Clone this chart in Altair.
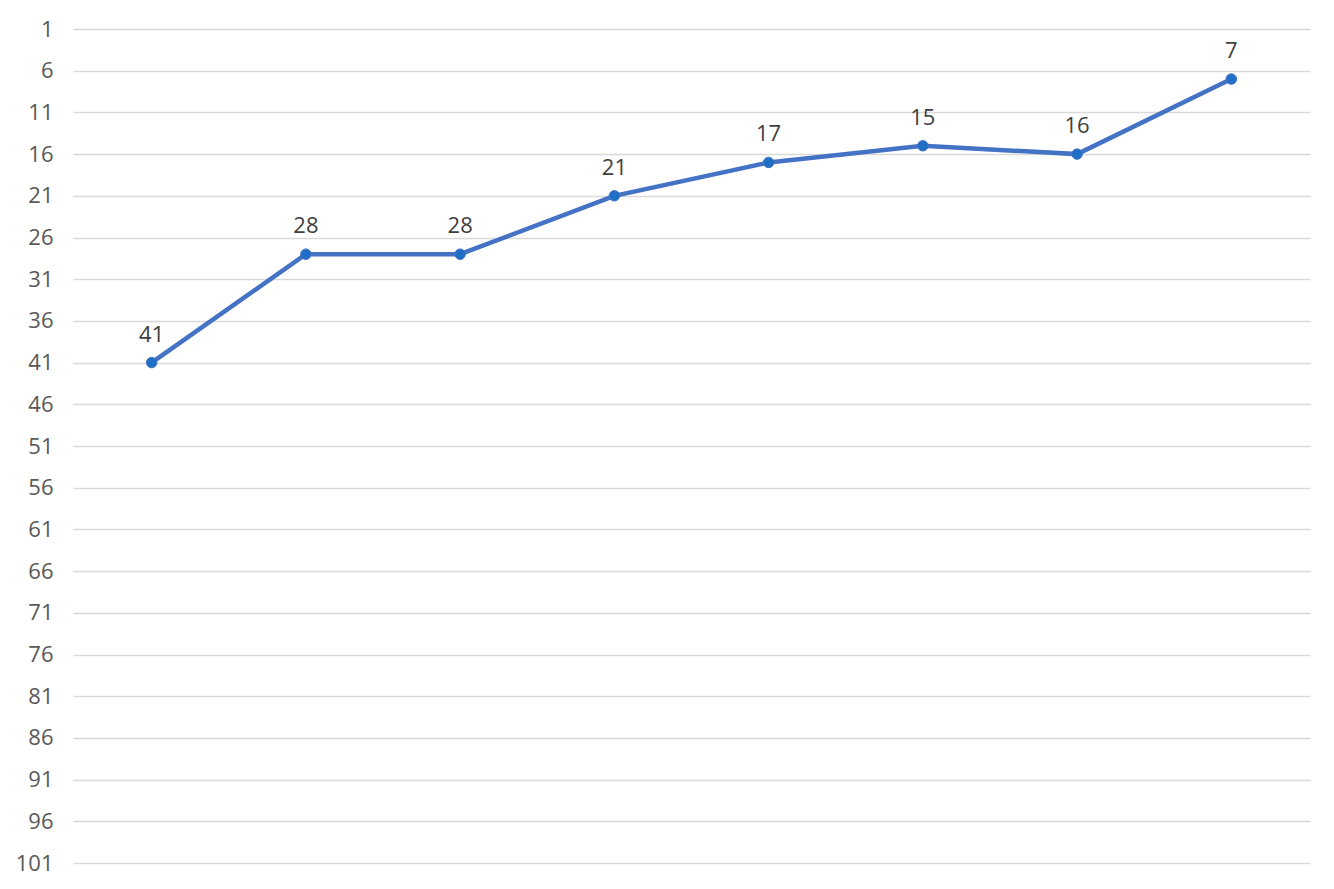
import altair as alt
import pandas as pd

categories = ["1", "2", "3", "4", "5", "6", "7", "8"]
ranks = [41, 28, 28, 21, 17, 15, 16, 7]
tick_values = list(range(1, 102, 5))

df = pd.DataFrame({"cat": categories, "rank": ranks})

x = alt.X("cat:O", sort=categories, axis=None,
          scale=alt.Scale(type="point", padding=0.51))
y = alt.Y("rank:Q", title=None,
          scale=alt.Scale(domain=[1, 101], reverse=True, nice=False, zero=False),
          axis=alt.Axis(values=tick_values, grid=True, gridColor="#D9D9D9", gridWidth=1.3,
                        domain=False, ticks=False, labelPadding=20,
                        labelFont="Open Sans", labelFontSize=22, labelColor="#595959"))

base = alt.Chart(df).encode(x=x, y=y)

line = base.mark_line(color="#4472C4", strokeWidth=4.5)
pts = base.mark_point(filled=True, size=110, color="#1F6FC6", opacity=1,
                      stroke="#4472C4", strokeWidth=1)
labels = base.mark_text(dy=-28, font="Open Sans", fontSize=22, color="#404040").encode(
    text="rank:Q")

chart = (line + pts + labels).properties(
    width=1237, height=834,
    background="white",
    autosize=alt.AutoSizeParams(type="none"),
    padding={"left": 65, "top": 21, "right": 10, "bottom": 18},
).configure_view(strokeWidth=0)

chart.save("out.html", embed_options={"renderer": "svg", "actions": False})
